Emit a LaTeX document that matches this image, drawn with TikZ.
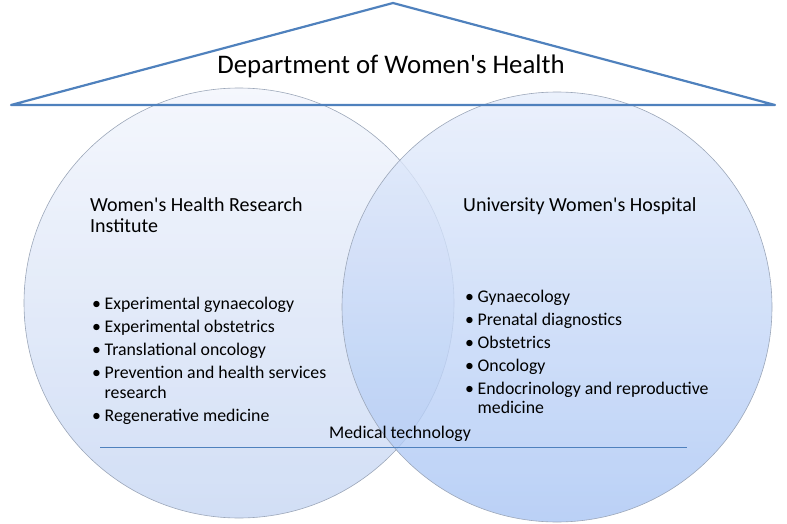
\documentclass[tikz,border=0pt]{standalone}
\usepackage{fontspec}
\setmainfont{Carlito}
\usepackage{xcolor}
\usetikzlibrary{positioning}

\definecolor{roofblue}{HTML}{4F81BD}
\definecolor{rimgrey}{HTML}{9CA7B9}
\definecolor{lefttop}{HTML}{F2F5FC}
\definecolor{leftbot}{HTML}{C6D6F3}
\definecolor{righttop}{HTML}{E6EDFB}
\definecolor{rightbot}{HTML}{A9C5F4}

\tikzset{
  unit/.style={circle, draw=rimgrey, line width=0.6pt, minimum size=430pt, inner sep=0pt, fill opacity=0.8},
  head/.style={anchor=base west, inner sep=0pt, font=\fontsize{20}{21}\selectfont},
  items/.style={anchor=base west, inner sep=0pt, font=\fontsize{17.8}{23}\selectfont},
}
\newcommand{\blt}{\makebox[12.5pt][l]{\textbullet}}
\newcommand{\apos}{\textquotesingle}

\begin{document}
\begin{tikzpicture}[x=1pt, y=-1pt]
        \useasboundingbox (0,0) rectangle (787,524);

        % the two units
        \node[unit, top color=lefttop, bottom color=leftbot] (wri) at (239,303) {};
        \node[unit, top color=righttop, bottom color=rightbot] (uwh) at (557,307) {};

        % roof of the department
        \coordinate (peak) at (393,3);
        \coordinate (eaveL) at (11,105);
        \coordinate (eaveR) at (775,105);
        \draw[roofblue, line width=2.2pt, line join=round] (eaveL) -- (peak) -- (eaveR) -- cycle;
        \node[font=\fontsize{26.8}{30}\selectfont, anchor=base] (dept) at (391,74) {Department of Women\apos s Health};

        % unit headings
        \node[head] (wrihead) at (90,211) {\begin{tabular}[t]{@{}l@{}}Women\apos s Health Research\\Institute\end{tabular}};
        \node[head] (uwhhead) at (463,211) {University Women\apos s Hospital};

        % research topics
        \node[items] (wrilist) at (92,309) {\begin{tabular}[t]{@{}l@{}}
            \blt Experimental gynaecology\\
            \blt Experimental obstetrics\\
            \blt Translational oncology\\
            \blt Prevention and health services\\[-3pt]
            \phantom{\blt}research\\
            \blt Regenerative medicine
          \end{tabular}};

        % clinical fields
        \node[items] (uwhlist) at (465,302) {\begin{tabular}[t]{@{}l@{}}
            \blt Gynaecology\\
            \blt Prenatal diagnostics\\
            \blt Obstetrics\\
            \blt Oncology\\
            \blt Endocrinology and reproductive\\[-4pt]
            \phantom{\blt}medicine
          \end{tabular}};

        % shared field
        \node[items, anchor=base] (medtech) at (400,438) {Medical technology};
        \coordinate (lineL) at (100,447);
        \coordinate (lineR) at (687,447);
        \draw[roofblue, line width=0.8pt] (lineL) -- (lineR);
\end{tikzpicture}
\end{document}
